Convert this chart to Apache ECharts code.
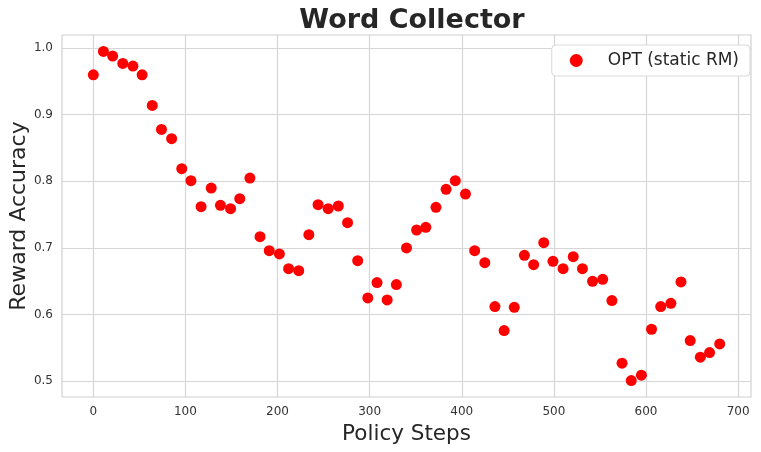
<!DOCTYPE html>
<html>
<head>
<meta charset="utf-8">
<script src="https://cdn.jsdelivr.net/npm/echarts@6/dist/echarts.min.js"></script>
<style>html,body{margin:0;padding:0;background:#fff}#c{width:761px;height:452px}</style>
</head>
<body>
<div id="c"></div>
<script>
const steps = [0, 11, 21, 32, 43, 53, 64, 74, 85, 96, 106, 117, 128, 138, 149, 159, 170, 181, 191, 202, 212, 223, 234, 244, 255, 266, 276, 287, 298, 308, 319, 329, 340, 351, 361, 372, 383, 393, 404, 414, 425, 436, 446, 457, 468, 478, 489, 499, 510, 521, 531, 542, 553, 563, 574, 584, 595, 606, 616, 627, 638, 648, 659, 669, 680];
const accuracy = [0.960, 0.995, 0.988, 0.977, 0.973, 0.960, 0.914, 0.878, 0.864, 0.819, 0.801, 0.762, 0.790, 0.764, 0.759, 0.774, 0.805, 0.717, 0.696, 0.691, 0.669, 0.666, 0.720, 0.765, 0.759, 0.763, 0.738, 0.681, 0.625, 0.648, 0.622, 0.645, 0.700, 0.727, 0.731, 0.761, 0.788, 0.801, 0.781, 0.696, 0.678, 0.612, 0.576, 0.611, 0.689, 0.675, 0.708, 0.680, 0.669, 0.687, 0.669, 0.650, 0.653, 0.621, 0.527, 0.501, 0.509, 0.578, 0.612, 0.617, 0.649, 0.561, 0.536, 0.543, 0.556];
const xTicks = [0, 100, 200, 300, 400, 500, 600, 700];
const yTicks = [0.5, 0.6, 0.7, 0.8, 0.9, 1.0];
const seriesName = 'OPT (static RM)';

const font = 'DejaVu Sans';
const chart = echarts.init(document.getElementById('c'), null, {renderer: 'canvas'});
chart.setOption({
  animation: false,
  title: {
    text: 'Word Collector', left: 407, textAlign: 'center', top: 2,
    textStyle: {fontFamily: font, fontSize: 27, fontWeight: 'bold', color: '#262626'}
  },
  legend: {
    data: [seriesName], right: 11, top: 45,
    backgroundColor: '#fff', borderColor: '#d9d9d9', borderWidth: 1, borderRadius: 4,
    padding: [7, 11, 7, 18], itemWidth: 13, itemHeight: 13, itemGap: 10,
    textStyle: {fontFamily: font, fontSize: 17, color: '#262626', padding: [0, 0, 0, 20]}
  },
  grid: {
    left: 62, right: 10, top: 35, bottom: 55, show: true,
    outerBoundsMode: 'none', containLabel: false,
    borderColor: '#d0d0d0', borderWidth: 1.2, backgroundColor: '#fff'
  },
  xAxis: {
    type: 'value', min: -34, max: 714,
    name: 'Policy Steps', nameLocation: 'middle', nameGap: 26, nameMoveOverlap: false,
    nameTextStyle: {fontFamily: font, fontSize: 21.5, color: '#262626'},
    axisLine: {show: false},
    axisTick: {show: false, customValues: xTicks},
    axisLabel: {customValues: xTicks, fontFamily: font, fontSize: 12, color: '#333', margin: 9},
    splitLine: {show: true, lineStyle: {color: '#d6d6d6', width: 1.2}}
  },
  yAxis: {
    type: 'value', min: 0.4763, max: 1.0197,
    name: 'Reward Accuracy', nameLocation: 'middle', nameGap: 32, nameRotate: 90, nameMoveOverlap: false,
    nameTextStyle: {fontFamily: font, fontSize: 22, color: '#262626'},
    axisLine: {show: false},
    axisTick: {show: false, customValues: yTicks},
    axisLabel: {customValues: yTicks, fontFamily: font, fontSize: 12, color: '#333', margin: 9,
      formatter: v => v.toFixed(1)},
    splitLine: {show: true, lineStyle: {color: '#d6d6d6', width: 1.2}}
  },
  series: [{
    name: seriesName, type: 'scatter', symbol: 'circle', symbolSize: 11,
    itemStyle: {color: '#ff0000', opacity: 1},
    data: steps.map((s, i) => [s, accuracy[i]])
  }]
});
</script>
</body>
</html>
